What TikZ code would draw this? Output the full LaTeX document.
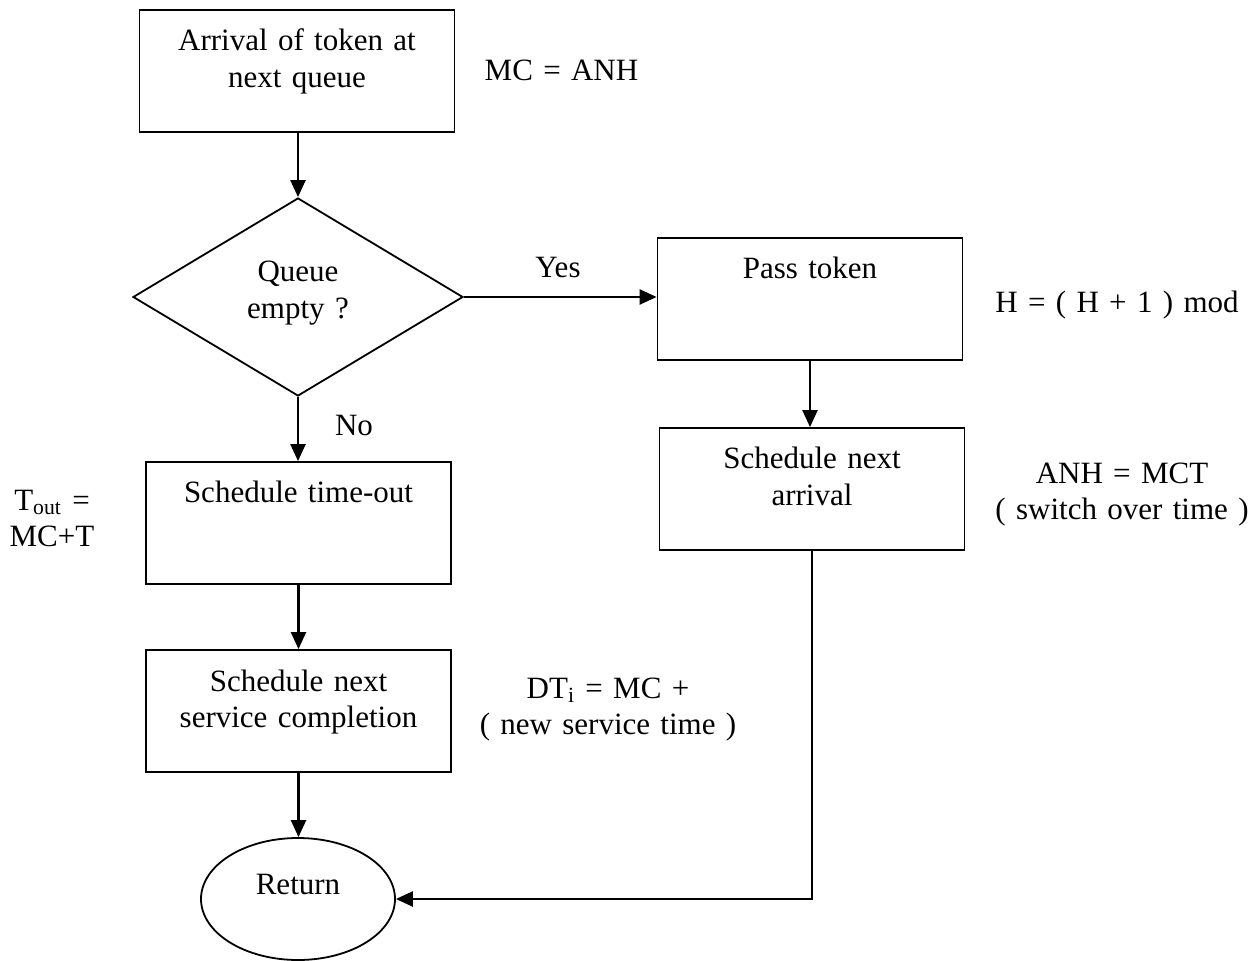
\documentclass[tikz,border=0pt]{standalone}
\usepackage{fontspec}
\setmainfont{Liberation Serif}
\usetikzlibrary{shapes.geometric,arrows.meta}

\begin{document}
\begin{tikzpicture}[x=0.5pt,y=-0.5pt,
  every node/.style={font=\fontsize{15.5}{18.2}\selectfont},
  procbox/.style={draw, line width=0.9pt, inner sep=0pt, align=center,
    text width=#1, text height=20.5pt, text depth=40.5pt},
  procbox/.default=152.5pt,
  decision/.style={diamond, draw, line width=0.9pt, inner sep=0pt, aspect=1.667,
    minimum width=165pt, minimum height=99pt, align=center, text width=60pt,
    text height=11pt, text depth=26pt},
  terminal/.style={ellipse, draw, line width=0.9pt, inner sep=0pt,
    minimum width=97pt, minimum height=61pt, text height=10pt, text depth=15pt},
  note/.style={inner sep=0pt, align=center, text width=#1, text height=11pt,
    anchor=north, font=\fontsize{15.5}{18}\selectfont},
  note/.default=140pt,
  flow/.style={line width=1.15pt, -{Triangle[length=8.5pt,width=7.5pt]}},
]
\useasboundingbox (0,0) rectangle (1257,961);

% flowchart nodes
\node[procbox=157.5pt] (arrive) at (297,71) {Arrival of token at\\next queue};
\node[decision] (empty) at (298,297) {Queue\\empty ?};
\node[procbox] (pass) at (810,299) {Pass token};
\node[procbox] (nextarr) at (812,489) {Schedule next\\arrival};
\node[procbox] (timeout) at (298.5,523) {Schedule time-out};
\node[procbox] (service) at (298.5,711) {Schedule next\\service completion};
\node[terminal] (ret) at (298,899) {Return};

% side annotations
\node[note] (mc) at (561.5,58) {MC = ANH};
\node[note=60pt] (yes) at (558,255) {Yes};
\node[note=60pt] (no) at (354,413) {No};
\node[note=160pt] (hmod) at (1117,290) {H = ( H + 1 ) mod};
\node[note=160pt] (anh) at (1122,461) {ANH = MCT\\( switch over time )};
\node[note=60pt] (tout) at (52,488) {T\textsubscript{out} =\\MC+T};
\node[note=160pt] (dt) at (608,676) {DT\textsubscript{i} = MC +\\( new service time )};

% connectors
\draw[flow] (arrive.south -| empty.north) -- (empty.north);
\draw[flow] (empty.east) -- (empty.east -| pass.west);
\draw[flow] (empty.south) -- (empty.south |- timeout.north);
\draw[flow] (pass.south) -- (pass.south |- nextarr.north);
\draw[flow] (timeout.south) -- (service.north);
\draw[flow] (service.south) -- (service.south |- ret.north);
\draw[flow] (nextarr.south) |- (ret.east);
\end{tikzpicture}
\end{document}
